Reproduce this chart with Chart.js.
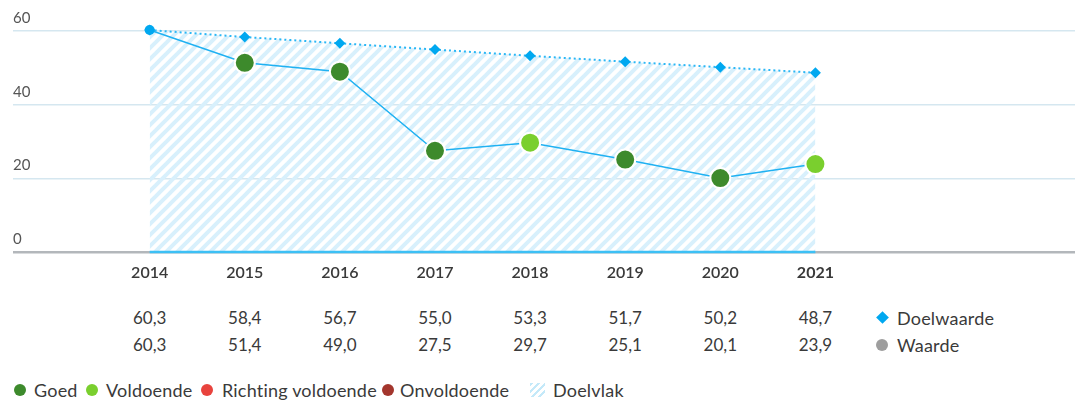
<!DOCTYPE html>
<html>
<head>
<meta charset="utf-8">
<script src="https://cdn.jsdelivr.net/npm/chart.js@4/dist/chart.umd.min.js"></script>
<style>
  html, body { margin: 0; padding: 0; background: #fff; }
  body { width: 1075px; height: 400px; overflow: hidden; font-family: Lato, "Open Sans", sans-serif; color: #3a3a3a; }
  #wrap { position: relative; width: 1075px; height: 400px; overflow: hidden; }
  #chart { position: absolute; left: 0; top: 0; }
  .cell { position: absolute; font-size: 17px; transform: translateX(-50%); white-space: nowrap; line-height: 20px; }
  .leg { position: absolute; font-size: 18px; letter-spacing: 0.2px; white-space: nowrap; line-height: 20px; }
  .ico { position: absolute; }
  .dot { width: 12px; height: 12px; border-radius: 50%; }
  .dia { width: 9px; height: 9px; background: #00a8f0; transform: rotate(45deg); }
  .hatch { width: 15px; height: 14px;
    background: repeating-linear-gradient(135deg, #c4e9f9 0 2.5px, #fff 2.5px 5px); }
</style>
</head>
<body>
<div id="wrap">
  <canvas id="chart" width="1088" height="290"></canvas>
</div>
<script>
const years = [2014, 2015, 2016, 2017, 2018, 2019, 2020, 2021];
const doelwaarde = [60.3, 58.4, 56.7, 55.0, 53.3, 51.7, 50.2, 48.7];
const waarde = [60.3, 51.4, 49.0, 27.5, 29.7, 25.1, 20.1, 23.9];
const status = ["start", "goed", "goed", "goed", "voldoende", "goed", "goed", "voldoende"];
const yTicks = [0, 20, 40, 60];

const statusColors = {
    start: "#00a8f0",
    goed: "#3d8a2c",
    voldoende: "#7acf2e",
    richting: "#e8433d",
    onvoldoende: "#a3362d"
};

document.addEventListener("DOMContentLoaded", function () {
    const wrap = document.getElementById("wrap");
    const ctx = document.getElementById("chart").getContext("2d");

    // hatch pattern for the Doelvlak
    const tile = document.createElement("canvas");
    tile.width = 11;
    tile.height = 11;
    const t = tile.getContext("2d");
    t.strokeStyle = "#d8f0fc";
    t.lineWidth = 4;
    [[-5.5, 5.5, 5.5, -5.5], [0, 11, 11, 0], [5.5, 16.5, 16.5, 5.5]].forEach(l => {
        t.beginPath();
        t.moveTo(l[0], l[1]);
        t.lineTo(l[2], l[3]);
        t.stroke();
    });
    const hatch = ctx.createPattern(tile, "repeat");

    const xy = arr => arr.map((v, i) => ({ x: years[i], y: v }));

    const chart = new Chart(ctx, {
        type: "line",
        data: {
            datasets: [
                {
                    label: "Waarde",
                    data: xy(waarde),
                    borderColor: "#1fb1f2",
                    borderWidth: 1.5,
                    pointRadius: status.map(s => s === "start" ? 5 : 10),
                    pointBackgroundColor: status.map(s => statusColors[s]),
                    pointBorderColor: "#fff",
                    pointBorderWidth: status.map(s => s === "start" ? 0 : 2),
                    order: 0
                },
                {
                    label: "Doelvlak basis",
                    data: xy(years.map(() => 0)),
                    borderColor: "#3cc0f5",
                    borderWidth: 2.5,
                    pointRadius: 0,
                    clip: false,
                    order: 1
                },
                {
                    label: "Doelwaarde",
                    data: xy(doelwaarde),
                    borderColor: "#2bb7f5",
                    borderWidth: 2,
                    borderDash: [2, 3],
                    pointStyle: "rectRot",
                    pointRadius: 5.5,
                    pointBackgroundColor: "#00a8f0",
                    pointBorderWidth: 0,
                    fill: "origin",
                    backgroundColor: hatch,
                    order: 2
                }
            ]
        },
        options: {
            responsive: false,
            animation: false,
            layout: { padding: { left: 13, top: 0, right: 0, bottom: 0 } },
            plugins: { legend: { display: false }, tooltip: { enabled: false } },
            scales: {
                x: {
                    type: "linear",
                    min: 2012.563,
                    max: 2023.74,
                    afterBuildTicks: s => { s.ticks = years.map(v => ({ value: v })); },
                    afterFit: s => { s.height = 38; },
                    grid: { display: false, drawTicks: false },
                    border: { display: false },
                    ticks: {
                        padding: 11,
                        color: "#3a3a3a",
                        callback: v => String(v),
                        font: c => ({ family: "Lato", size: 16, weight: c.tick && c.tick.value === 2021 ? "bold" : "600" })
                    }
                },
                y: {
                    min: 0,
                    max: 65.2,
                    afterBuildTicks: s => { s.ticks = yTicks.map(v => ({ value: v })); },
                    afterFit: s => { s.width = 0; },
                    border: { display: false },
                    grid: {
                        drawTicks: false,
                        color: c => c.tick.value === 0 ? "#b3b7bb" : "#d5e7f0",
                        lineWidth: c => c.tick.value === 0 ? 2.5 : 1.5
                    },
                    ticks: {
                        mirror: true,
                        padding: 0,
                        labelOffset: -13,
                        color: "#555",
                        font: { family: "Lato", size: 15 }
                    }
                }
            }
        }
    });

    // data table below the chart
    const xs = chart.scales.x;
    const addCell = (text, x, y) => {
        const d = document.createElement("div");
        d.className = "cell";
        d.textContent = text;
        d.style.left = x + "px";
        d.style.top = y + "px";
        wrap.appendChild(d);
    };
    const fmt = v => v.toFixed(1).replace(".", ",");
    years.forEach((yr, i) => {
        const x = xs.getPixelForValue(yr);
        addCell(fmt(doelwaarde[i]), x, 308);
        addCell(fmt(waarde[i]), x, 335);
    });

    // legends: icon at (ix, iy), text at tx
    const addLegend = (iconClass, iconStyle, ix, iy, text, tx, ty) => {
        const i = document.createElement("div");
        i.className = "ico " + iconClass;
        i.style.cssText += iconStyle;
        i.style.left = ix + "px";
        i.style.top = iy + "px";
        wrap.appendChild(i);
        const d = document.createElement("div");
        d.className = "leg";
        d.textContent = text;
        d.style.left = tx + "px";
        d.style.top = ty + "px";
        wrap.appendChild(d);
    };
    addLegend("dia", "", 878, 313, "Doelwaarde", 897, 308);
    addLegend("dot", "background:#9e9e9e", 876, 339, "Waarde", 897, 335);

    const bottom = [
        ["goed", "Goed", 14, 34],
        ["voldoende", "Voldoende", 86, 106],
        ["richting", "Richting voldoende", 201, 222],
        ["onvoldoende", "Onvoldoende", 382, 400]
    ];
    bottom.forEach(b => {
        addLegend("dot", "background:" + statusColors[b[0]], b[2], 384, b[1], b[3], 380);
    });
    addLegend("hatch", "", 530, 383, "Doelvlak", 553, 380);
});
</script>
</body>
</html>
